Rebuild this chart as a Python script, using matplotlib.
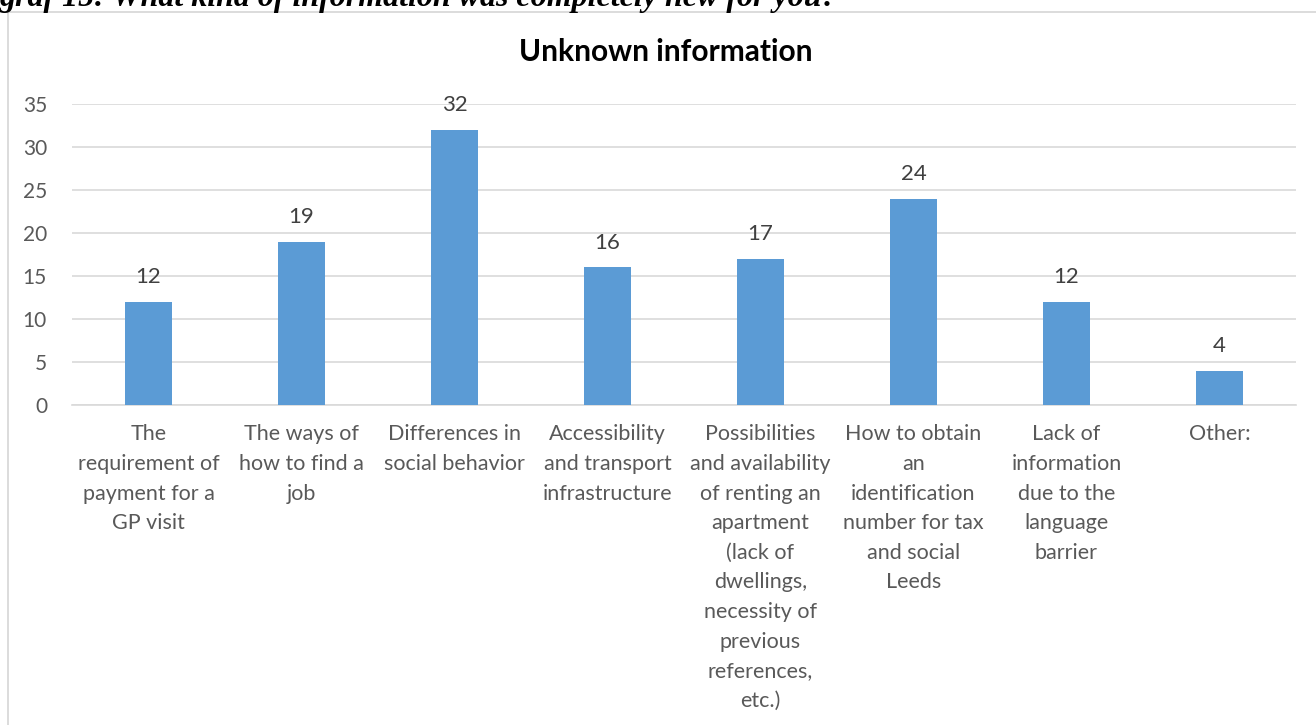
import matplotlib.pyplot as plt
from matplotlib.patches import Rectangle

categories = [
    "The\nrequirement of\npayment for a\nGP visit",
    "The ways of\nhow to find a\njob",
    "Differences in\nsocial behavior",
    "Accessibility\nand transport\ninfrastructure",
    "Possibilities\nand availability\nof renting an\napartment\n(lack of\ndwellings,\nnecessity of\nprevious\nreferences,\netc.)",
    "How to obtain\nan\nidentification\nnumber for tax\nand social\nLeeds",
    "Lack of\ninformation\ndue to the\nlanguage\nbarrier",
    "Other:",
]
counts = [12, 19, 32, 16, 17, 24, 12, 4]
yticks = [0, 5, 10, 15, 20, 25, 30, 35]

W, H = 1316, 725
fig = plt.figure(figsize=(W / 100, H / 100), dpi=100)
plt.rcParams['font.family'] = ['Lato', 'DejaVu Sans']

# chart frame (runs off the right and bottom edges)
fig.patches.append(Rectangle((8 / W, -0.05), 1.1, 1 - 12 / H + 0.05,
                             transform=fig.transFigure, fill=False,
                             edgecolor='#D9D9D9', linewidth=1.3))

# caption above the chart, partly cut by the top edge
fig.text(0.0, 1 - 6 / H, "graf 15: What kind of information was completely new for you?",
         family='Liberation Serif', fontweight='bold', fontstyle='italic',
         fontsize=23, va='baseline', ha='left', color='black')

ax = fig.add_axes([72 / W, 1 - 405 / H, (1296 - 72) / W, (405 - 104) / H])
x = range(len(counts))
bars = ax.bar(x, counts, width=0.31, color='#5B9BD5', zorder=3)
for xi, v in zip(x, counts):
    ax.text(xi, v + 1.7, str(v), ha='center', va='bottom', fontsize=16, color='#404040')

ax.set_xlim(-0.5, len(counts) - 0.5)
ax.set_ylim(0, 35)
ax.set_yticks(yticks)
ax.yaxis.grid(True, color='#D9D9D9', linewidth=1.2, zorder=0)
ax.set_xticks(list(x))
ax.set_xticklabels(categories, fontsize=15.5, color='#595959', linespacing=1.6)
ax.tick_params(axis='x', length=0, pad=14)
ax.tick_params(axis='y', length=0, pad=18, labelsize=15, labelcolor='#595959')
for s in ['top', 'right', 'left']:
    ax.spines[s].set_visible(False)
ax.spines['bottom'].set_color('#D9D9D9')
ax.spines['bottom'].set_linewidth(1.2)

fig.text(666 / W, 1 - 52 / H, "Unknown information", ha='center', va='center',
         fontsize=21.5, fontweight='bold', color='black')

plt.savefig('out.png', dpi=100)
